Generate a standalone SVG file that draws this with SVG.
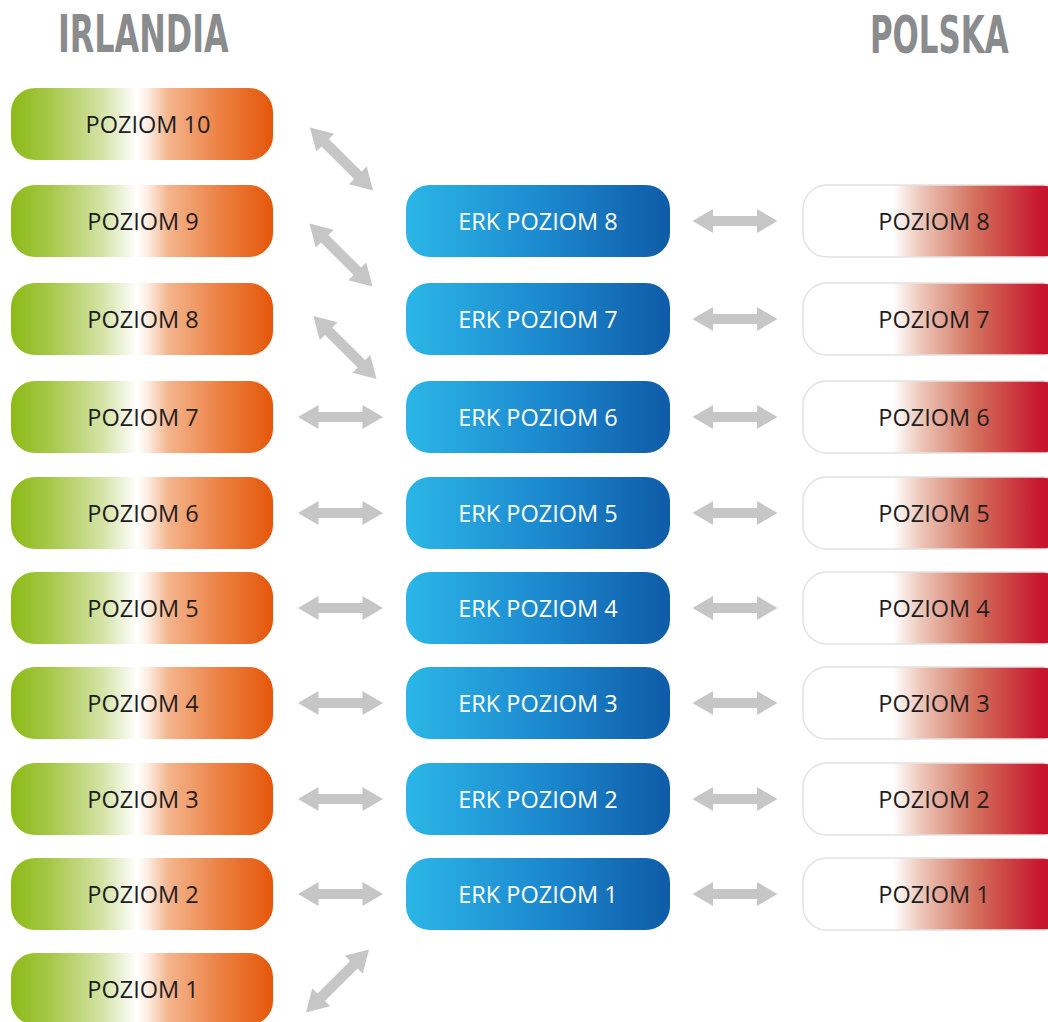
<svg xmlns="http://www.w3.org/2000/svg" xmlns:xlink="http://www.w3.org/1999/xlink" width="1048" height="1022" viewBox="0 0 1048 1022">
<style>
.title{font-family:"Liberation Sans Narrow","DejaVu Sans Condensed","Liberation Sans",sans-serif;font-weight:bold;font-size:52px;fill:#8a8b8d;font-stretch:condensed}
.lbl{font-family:"Open Sans","Noto Sans","Liberation Sans",sans-serif;font-size:23.5px;text-anchor:middle}
.dark{fill:#1e1e1e}
.light{fill:#ffffff}
.ie{fill:url(#gIE)}
.erk{fill:url(#gERK)}
.pl{fill:url(#gPL);stroke:#e2e2e2;stroke-width:1.5}
.arr{fill:#c6c6c6}
</style>
<defs>
<linearGradient id="gIE" x1="0" y1="0" x2="1" y2="0">
<stop offset="0" stop-color="#8cba17"/>
<stop offset="0.15" stop-color="#a6c849"/>
<stop offset="0.35" stop-color="#d5e3a6"/>
<stop offset="0.48" stop-color="#ffffff"/>
<stop offset="0.52" stop-color="#fdeee4"/>
<stop offset="0.6" stop-color="#f4b58d"/>
<stop offset="0.8" stop-color="#ec8042"/>
<stop offset="1" stop-color="#e5560a"/>
</linearGradient>
<linearGradient id="gERK" x1="0" y1="0" x2="1" y2="0">
<stop offset="0" stop-color="#2bb6e6"/>
<stop offset="0.5" stop-color="#1d8bd0"/>
<stop offset="1" stop-color="#0f5ba7"/>
</linearGradient>
<linearGradient id="gPL" x1="0" y1="0" x2="1" y2="0">
<stop offset="0" stop-color="#ffffff"/>
<stop offset="0.34" stop-color="#ffffff"/>
<stop offset="0.45" stop-color="#ecc5b8"/>
<stop offset="0.65" stop-color="#d3705c"/>
<stop offset="0.9" stop-color="#c8162e"/>
<stop offset="1" stop-color="#c8102e"/>
</linearGradient>
<polygon id="arrow" points="-42.5,0 -22,-12 -22,-5 22,-5 22,-12 42.5,0 22,12 22,5 -22,5 -22,12"/>
</defs>
<rect width="1048" height="1022" fill="#ffffff"/>
<g id="titles">
<text class="title" transform="translate(58,52) scale(0.68,1)" x="0" y="0">IRLANDIA</text>
<text class="title" transform="translate(870,53) scale(0.66,1)" x="0" y="0">POLSKA</text>
</g>
<g id="connectors" class="arr">
<use xlink:href="#arrow" transform="translate(341.5,159) rotate(45) scale(1.05)"/>
<use xlink:href="#arrow" transform="translate(341,255) rotate(45) scale(1.05)"/>
<use xlink:href="#arrow" transform="translate(345,347.5) rotate(45) scale(1.05)"/>
<use xlink:href="#arrow" transform="translate(340.5,417)"/>
<use xlink:href="#arrow" transform="translate(340.5,513)"/>
<use xlink:href="#arrow" transform="translate(340.5,608)"/>
<use xlink:href="#arrow" transform="translate(340.5,703)"/>
<use xlink:href="#arrow" transform="translate(340.5,799)"/>
<use xlink:href="#arrow" transform="translate(340.5,894)"/>
<use xlink:href="#arrow" transform="translate(337.5,981) rotate(-45) scale(1.05)"/>
<use xlink:href="#arrow" transform="translate(735,221)"/>
<use xlink:href="#arrow" transform="translate(735,319)"/>
<use xlink:href="#arrow" transform="translate(735,417)"/>
<use xlink:href="#arrow" transform="translate(735,513)"/>
<use xlink:href="#arrow" transform="translate(735,608)"/>
<use xlink:href="#arrow" transform="translate(735,703)"/>
<use xlink:href="#arrow" transform="translate(735,799)"/>
<use xlink:href="#arrow" transform="translate(735,894)"/>
</g>
<g id="ie10"><rect class="ie" x="11" y="88" width="262" height="72" rx="24"/><text class="lbl dark" x="148" y="132.5">POZIOM 10</text></g>
<g id="ie9"><rect class="ie" x="11" y="185" width="262" height="72" rx="24"/><text class="lbl dark" x="143" y="229.5">POZIOM 9</text></g>
<g id="ie8"><rect class="ie" x="11" y="283" width="262" height="72" rx="24"/><text class="lbl dark" x="143" y="327.5">POZIOM 8</text></g>
<g id="ie7"><rect class="ie" x="11" y="381" width="262" height="72" rx="24"/><text class="lbl dark" x="143" y="425.5">POZIOM 7</text></g>
<g id="ie6"><rect class="ie" x="11" y="477" width="262" height="72" rx="24"/><text class="lbl dark" x="143" y="521.5">POZIOM 6</text></g>
<g id="ie5"><rect class="ie" x="11" y="572" width="262" height="72" rx="24"/><text class="lbl dark" x="143" y="616.5">POZIOM 5</text></g>
<g id="ie4"><rect class="ie" x="11" y="667" width="262" height="72" rx="24"/><text class="lbl dark" x="143" y="711.5">POZIOM 4</text></g>
<g id="ie3"><rect class="ie" x="11" y="763" width="262" height="72" rx="24"/><text class="lbl dark" x="143" y="807.5">POZIOM 3</text></g>
<g id="ie2"><rect class="ie" x="11" y="858" width="262" height="72" rx="24"/><text class="lbl dark" x="143" y="902.5">POZIOM 2</text></g>
<g id="ie1"><rect class="ie" x="11" y="953" width="262" height="72" rx="24"/><text class="lbl dark" x="143" y="997.5">POZIOM 1</text></g>
<g id="erk8"><rect class="erk" x="406" y="185" width="264" height="72" rx="24"/><text class="lbl light" x="538" y="229.5">ERK POZIOM 8</text></g>
<g id="erk7"><rect class="erk" x="406" y="283" width="264" height="72" rx="24"/><text class="lbl light" x="538" y="327.5">ERK POZIOM 7</text></g>
<g id="erk6"><rect class="erk" x="406" y="381" width="264" height="72" rx="24"/><text class="lbl light" x="538" y="425.5">ERK POZIOM 6</text></g>
<g id="erk5"><rect class="erk" x="406" y="477" width="264" height="72" rx="24"/><text class="lbl light" x="538" y="521.5">ERK POZIOM 5</text></g>
<g id="erk4"><rect class="erk" x="406" y="572" width="264" height="72" rx="24"/><text class="lbl light" x="538" y="616.5">ERK POZIOM 4</text></g>
<g id="erk3"><rect class="erk" x="406" y="667" width="264" height="72" rx="24"/><text class="lbl light" x="538" y="711.5">ERK POZIOM 3</text></g>
<g id="erk2"><rect class="erk" x="406" y="763" width="264" height="72" rx="24"/><text class="lbl light" x="538" y="807.5">ERK POZIOM 2</text></g>
<g id="erk1"><rect class="erk" x="406" y="858" width="264" height="72" rx="24"/><text class="lbl light" x="538" y="902.5">ERK POZIOM 1</text></g>
<g id="pl8"><rect class="pl" x="803" y="185" width="264" height="72" rx="24"/><text class="lbl dark" x="934" y="229.5">POZIOM 8</text></g>
<g id="pl7"><rect class="pl" x="803" y="283" width="264" height="72" rx="24"/><text class="lbl dark" x="934" y="327.5">POZIOM 7</text></g>
<g id="pl6"><rect class="pl" x="803" y="381" width="264" height="72" rx="24"/><text class="lbl dark" x="934" y="425.5">POZIOM 6</text></g>
<g id="pl5"><rect class="pl" x="803" y="477" width="264" height="72" rx="24"/><text class="lbl dark" x="934" y="521.5">POZIOM 5</text></g>
<g id="pl4"><rect class="pl" x="803" y="572" width="264" height="72" rx="24"/><text class="lbl dark" x="934" y="616.5">POZIOM 4</text></g>
<g id="pl3"><rect class="pl" x="803" y="667" width="264" height="72" rx="24"/><text class="lbl dark" x="934" y="711.5">POZIOM 3</text></g>
<g id="pl2"><rect class="pl" x="803" y="763" width="264" height="72" rx="24"/><text class="lbl dark" x="934" y="807.5">POZIOM 2</text></g>
<g id="pl1"><rect class="pl" x="803" y="858" width="264" height="72" rx="24"/><text class="lbl dark" x="934" y="902.5">POZIOM 1</text></g>
</svg>
